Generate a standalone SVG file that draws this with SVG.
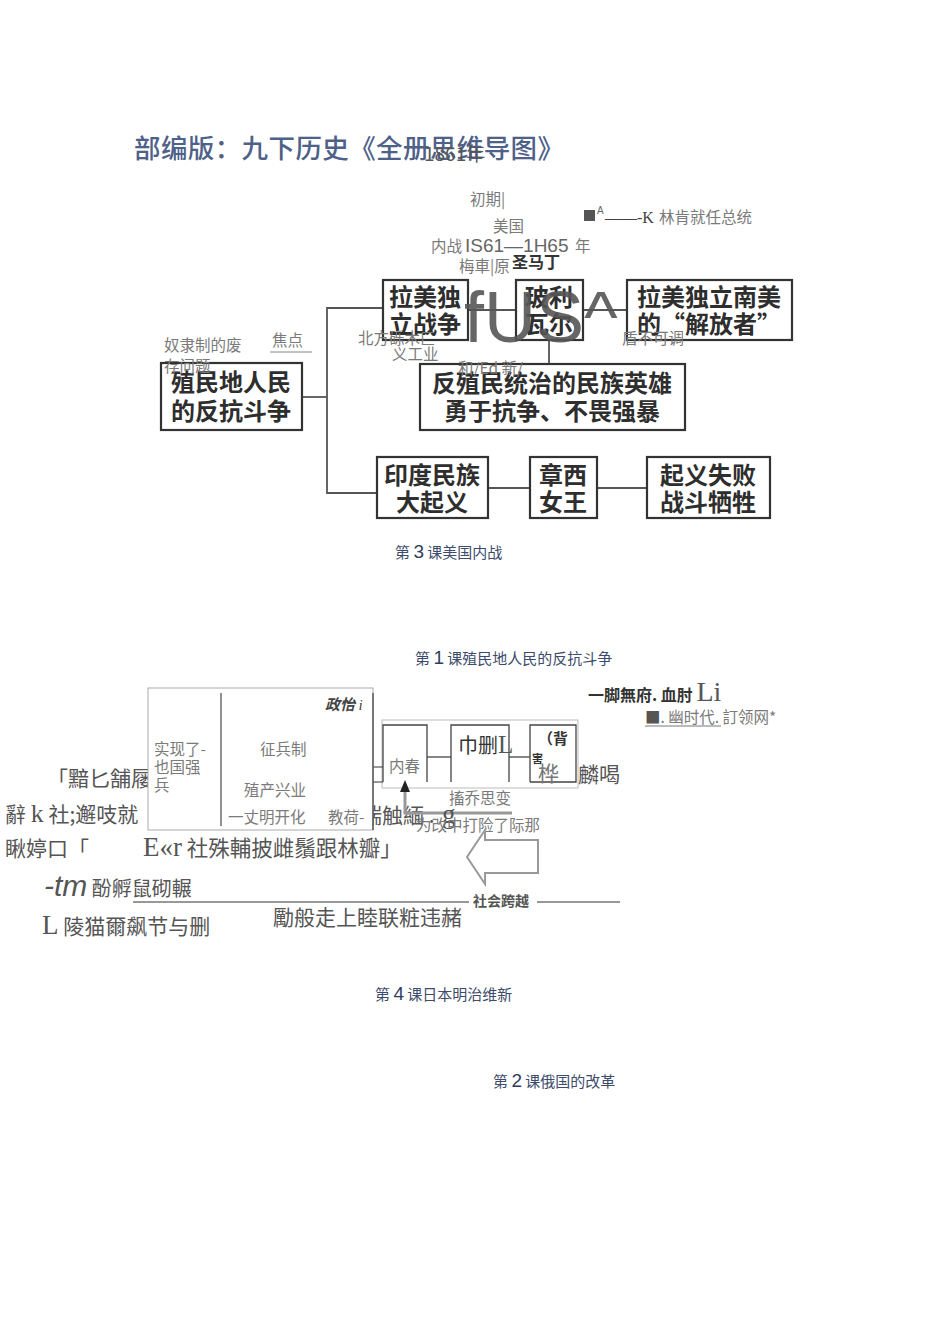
<svg xmlns="http://www.w3.org/2000/svg" width="950" height="1344" viewBox="0 0 950 1344">
<style>
.bx{fill:#fff;stroke:#333;stroke-width:2.2}
.bt{font-family:"Noto Sans CJK SC",sans-serif;font-size:24px;font-weight:700;fill:#2e2e2e;text-anchor:middle}
.g{font-family:"Noto Sans CJK SC",sans-serif;font-size:15.5px;fill:#7a7a7a}
.d{font-family:"Noto Sans CJK SC",sans-serif;fill:#555}
.ch{font-family:"Noto Sans CJK SC",sans-serif;font-size:15px;fill:#3d4c6c}
.cn{font-family:"Liberation Sans",sans-serif;font-size:19px;fill:#2e3d5e}
.ln{stroke:#555;stroke-width:1.8;fill:none}
.tl{stroke:#888;stroke-width:1.2;fill:none}
</style>
<rect width="950" height="1344" fill="#fff"/>
<g id="title">
<text x="134" y="158" font-family="Noto Sans CJK SC,sans-serif" font-size="26.5" letter-spacing="0.4" fill="#4e6189" font-weight="500">部编版：九下历史《全册思维导图》</text>
<text x="424" y="161" font-family="Noto Sans CJK SC,sans-serif" font-size="19" fill="#555">1861年</text>
</g>
<g id="connectors">
<polyline class="ln" points="302,397 327,397"/>
<polyline class="ln" points="383,308 327,308 327,493 377,493"/>
<line class="ln" x1="468" y1="310" x2="516" y2="310"/>
<line class="ln" x1="583" y1="310" x2="627" y2="310"/>
<line class="ln" x1="549" y1="340" x2="549" y2="364"/>
<line class="ln" x1="488" y1="488" x2="530" y2="488"/>
<line class="ln" x1="597" y1="488" x2="647" y2="488"/>
</g>
<g id="n-lamei"><rect class="bx" x="383" y="280" width="85" height="60"/><text class="bt" x="425" y="306">拉美独</text><text class="bt" x="425" y="333">立战争</text></g>
<g id="n-boliwaer"><rect class="bx" x="516" y="280" width="67" height="60"/><text class="bt" x="549" y="306">玻利</text><text class="bt" x="549" y="333">瓦尔</text></g>
<g id="n-jiefang"><rect class="bx" x="627" y="280" width="165" height="60"/><text class="bt" x="709" y="306">拉美独立南美</text><text class="bt" x="709" y="333">的“解放者”</text></g>
<g id="n-zhimin"><rect class="bx" x="161" y="363" width="141" height="67"/><text class="bt" x="231" y="391" font-size="25">殖民地人民</text><text class="bt" x="231" y="420" font-size="25">的反抗斗争</text></g>
<g id="n-yingxiong"><rect class="bx" x="420" y="364" width="265" height="66"/><text class="bt" x="552" y="392">反殖民统治的民族英雄</text><text class="bt" x="552" y="420">勇于抗争、不畏强暴</text></g>
<g id="n-yindu"><rect class="bx" x="377" y="457" width="111" height="61"/><text class="bt" x="432" y="484">印度民族</text><text class="bt" x="432" y="511">大起义</text></g>
<g id="n-zhangxi"><rect class="bx" x="530" y="457" width="67" height="61"/><text class="bt" x="563" y="484">章西</text><text class="bt" x="563" y="511">女王</text></g>
<g id="n-shibai"><rect class="bx" x="647" y="457" width="123" height="61"/><text class="bt" x="708" y="484">起义失败</text><text class="bt" x="708" y="511">战斗牺牲</text></g>
<g id="lesson3-notes">
<text class="g" x="470" y="205">初期|</text>
<rect x="584" y="210" width="11" height="11" fill="#555"/>
<text x="597" y="214" font-family="Liberation Sans,sans-serif" font-size="10" fill="#666">A</text>
<text x="605" y="223" font-family="Liberation Serif,serif" font-size="16" fill="#444">——-K</text>
<text class="g" x="659" y="223">林肯就任总统</text>
<text class="g" x="493" y="232">美国</text>
<text class="g" x="431" y="252">内战</text>
<text x="465" y="252" font-family="Liberation Sans,sans-serif" font-size="19" fill="#666">IS61—1H65</text>
<text class="g" x="575" y="252">年</text>
<text class="g" x="459" y="272">梅車|原</text>
<text x="512" y="268" font-family="Noto Sans CJK SC,sans-serif" font-size="16" font-weight="700" fill="#333">圣马丁</text>
<text class="g" x="164" y="351">奴隶制的废</text>
<text class="g" x="164" y="372">存问题</text>
<text class="g" x="272" y="346">焦点</text>
<line class="tl" x1="270" y1="352" x2="312" y2="352"/>
<text class="g" x="358" y="344">北方砾木匚</text>
<text class="g" x="392" y="360">义工业</text>
<text class="g" x="622" y="344">盾不可调</text>
<text class="g" x="458" y="374">和/Ed 新/</text>
<text x="464" y="342" font-family="Liberation Sans,sans-serif" font-size="72" fill="#555" fill-opacity="0.9">fUS^</text>
<text class="ch" x="395" y="558">第 <tspan class="cn">3</tspan> 课美国内战</text>
<text class="ch" x="415" y="664">第 <tspan class="cn">1</tspan> 课殖民地人民的反抗斗争</text>
</g>
<g id="japan-left">
<text class="d" x="47" y="786" font-size="21">「黯匕舗屦</text>
<text class="d" x="5" y="822" font-size="21">辭 <tspan font-family="Liberation Serif,serif" font-size="26">k</tspan> 社;邂吱就</text>
<text class="d" x="5" y="856" font-size="21">瞅婷口「</text>
<text class="d" x="361" y="823" font-size="21">揣触緬 . </text>
</g>
<g id="japan-main">
<rect x="148" y="688" width="225" height="142" fill="#fff" stroke="#aaa" stroke-width="1"/>
<line x1="221" y1="693" x2="221" y2="826" stroke="#555" stroke-width="1.3"/>
<line x1="373" y1="693" x2="373" y2="830" stroke="#444" stroke-width="1.3"/>
<text x="325" y="710" font-family="Noto Sans CJK SC,sans-serif" font-size="15" font-style="italic" font-weight="700" fill="#444">政怡 <tspan font-family="Liberation Serif,serif" font-weight="400">i</tspan></text>
<text class="g" x="154" y="755">实现了-</text>
<text class="g" x="154" y="773">也国强</text>
<text class="g" x="154" y="791">兵</text>
<text class="g" x="260" y="755">征兵制</text>
<text class="g" x="244" y="796">殖产兴业</text>
<text class="g" x="228" y="823">一丈明开化</text>
<text class="g" x="328" y="823">教荷-</text>
</g>
<g id="japan-bottom">
<text class="d" x="143" y="856" font-size="21.5"><tspan font-family="Liberation Serif,serif" font-size="27">E«r</tspan> 社殊輔披雌鬚跟林瓣」</text>
<text class="d" x="44" y="896" font-size="20"><tspan font-family="Liberation Sans,sans-serif" font-style="italic" font-size="30">-tm</tspan> 酚孵鼠砌輾</text>
<text class="d" x="42" y="934" font-size="21"><tspan font-family="Liberation Serif,serif" font-size="27">L</tspan> 陵猫爾飙节与删</text>
<line x1="133" y1="902" x2="469" y2="902" stroke="#333" stroke-width="1.2"/>
<line x1="537" y1="902" x2="620" y2="902" stroke="#333" stroke-width="1.2"/>
<text x="473" y="906" font-family="Noto Sans CJK SC,sans-serif" font-size="14" font-weight="700" fill="#555">社会跨越</text>
<text class="d" x="273" y="925" font-size="21">勵般走上睦联粧违赭</text>
</g>
<g id="japan-right">
<rect x="382" y="720" width="196" height="68" fill="#fff" stroke="#bbb" stroke-width="1"/>
<line x1="373" y1="767" x2="383" y2="767" stroke="#555" stroke-width="1.2"/>
<line x1="373" y1="782" x2="383" y2="782" stroke="#555" stroke-width="1.2"/>
<polyline points="383,782 383,725 427,725 427,782" fill="none" stroke="#444" stroke-width="1.3"/>
<polyline points="427,757 451,757" fill="none" stroke="#444" stroke-width="1.3"/>
<polyline points="451,782 451,725 509,725 509,782" fill="none" stroke="#444" stroke-width="1.3"/>
<polyline points="509,757 530,757" fill="none" stroke="#444" stroke-width="1.3"/>
<polyline points="530,782 530,725 576,725 576,782 530,782" fill="none" stroke="#444" stroke-width="1.3"/>
<text class="g" x="389" y="772">内春</text>
<text x="458" y="753" font-family="Noto Sans CJK SC,sans-serif" font-size="20" fill="#333">巾删<tspan font-family="Liberation Serif,serif" font-size="25" fill="#555">L</tspan></text>
<text x="538" y="744" font-family="Noto Sans CJK SC,sans-serif" font-size="15" font-weight="700" fill="#333">（背</text>
<text x="532" y="763" font-family="Noto Sans CJK SC,sans-serif" font-size="11" font-weight="700" fill="#333">害</text>
<text x="538" y="781" font-family="Noto Sans CJK SC,sans-serif" font-size="21" fill="#777">桦</text>
<text class="d" x="578" y="782" font-size="21">麟喝</text>
<polygon points="405,780 400,792 410,792" fill="#222"/>
<polyline points="405,792 405,813 512,813" fill="none" stroke="#999" stroke-width="3"/>
<text class="g" x="449" y="804">搐乔思变</text>
<text x="442" y="823" font-family="Liberation Serif,serif" font-size="27" fill="#555">g</text>
<text class="g" x="416" y="831">为改中打险了际那</text>
<polygon points="467,857 485,830 485,840 538,840 538,873 485,873 485,884" fill="#fff" stroke="#999" stroke-width="2"/>
</g>
<g id="russia-notes">
<text x="588" y="701" font-family="Noto Sans CJK SC,sans-serif" font-size="16" font-weight="700" fill="#333">一脚無府. 血肘 <tspan font-family="Liberation Serif,serif" font-size="28" font-weight="400" fill="#555">Li</tspan></text>
<text class="g" x="645" y="723"><tspan fill="#555">■</tspan>. 幽时代. 訂领网*</text>
<line x1="645" y1="726" x2="721" y2="726" stroke="#777" stroke-width="1"/>
</g>
<g id="chapters">
<text class="ch" x="375" y="1000">第 <tspan class="cn">4</tspan> 课日本明治维新</text>
<text class="ch" x="493" y="1087">第 <tspan class="cn">2</tspan> 课俄国的改革</text>
</g>
</svg>
